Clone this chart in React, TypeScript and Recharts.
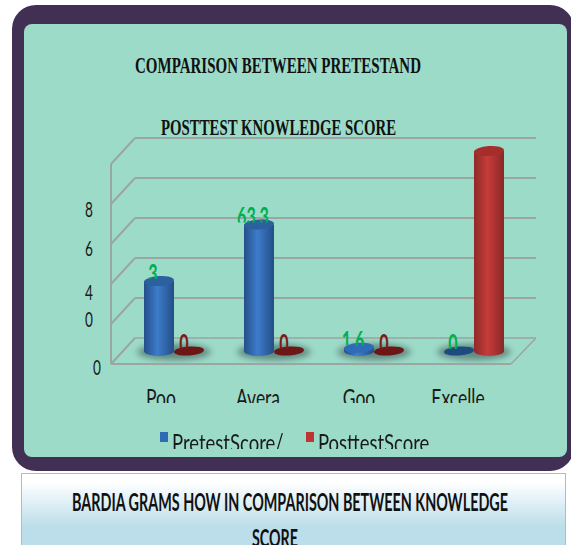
import React, { useId } from 'react';
import { Bar, BarChart, CartesianGrid, LabelList, Legend, XAxis, YAxis } from 'recharts';

const categories = ['Poo', 'Avera', 'Goo', 'Excelle'];
const pretestScores = [35, 63.3, 1.6, 0];
const posttestScores = [0, 0, 0, 100];
const pretestLabels = ['3', '63.3', '1.6', '0'];
const posttestLabels = ['0', '0', '0', ''];
const yTicks = [0, 20, 40, 60, 80, 100];
const yTickLabels = ['0', '0', '4', '6', '8', ''];

const data = categories.map((name, i) => ({
  name,
  pretest: pretestScores[i],
  posttest: posttestScores[i],
  pretestLabel: pretestLabels[i],
  posttestLabel: posttestLabels[i]
}));

const GRID = '#9ba5a1';
const TEAL = '#9ddbc9';
const GREEN = '#00b050';
const BAR_DX = 13;
const BAR_DY = -13;
const DEPTH_X = 24;
const DEPTH_Y = -26;
const RY = 5;

// [clip bottom relative to tick y, horizontal nudge] for the y labels, which are cut off unevenly
const yTickNudge = [
  { bottom: 11, dx: -14 },
  { bottom: 3, dx: -22 },
  { bottom: 16, dx: -22 },
  { bottom: 12, dx: -22 },
  { bottom: 13, dx: -22 },
  { bottom: 0, dx: -22 }
];
const xTickNudge = [0, -3, -2, -3];

function CutText({ cx, bottom, cut, size, sx, fill, weight, children }: any) {
  const id = 'cut' + useId().replace(/[^a-zA-Z0-9]/g, '');
  return (
    <g clipPath={`url(#${id})`}>
      <clipPath id={id}>
        <rect x={cx - 80} y={bottom - 60} width={160} height={60} />
      </clipPath>
      <text
        transform={`translate(${cx},${bottom + cut}) scale(${sx},1)`}
        textAnchor="middle"
        fontFamily="Lato"
        fontSize={size}
        fontWeight={weight}
        fill={fill}
      >
        {children}
      </text>
    </g>
  );
}

function Cylinder(props: any) {
  const { x, y, width, height, tone, withShadow } = props;
  const left = x + BAR_DX;
  const cx = left + width / 2;
  const top = y + BAR_DY;
  const base = top + height;
  const rx = width / 2;
  const flat = height < 1;
  const colors = tone === 'blue'
    ? { body: 'url(#blueBody)', cap: height > 10 ? '#2c609f' : '#2f6cb8', flat: '#1f4a80' }
    : { body: 'url(#redBody)', cap: '#a52e2d', flat: '#6d1616' };
  return (
    <g>
      {withShadow && (
        <ellipse cx={left + width} cy={base + 1} rx={37} ry={8} fill="#4d6f66" opacity={0.75} filter="url(#floorBlur)" />
      )}
      {!flat && (
        <path
          d={`M${left},${top} L${left},${base} A${rx},${RY} 0 0 0 ${left + width},${base} L${left + width},${top} Z`}
          fill={colors.body}
        />
      )}
      <ellipse
        cx={cx}
        cy={top}
        rx={rx}
        ry={flat ? 4.5 : RY}
        fill={flat ? colors.flat : colors.cap}
        transform={`rotate(-4 ${cx} ${top})`}
      />
    </g>
  );
}

function DataLabel(props: any) {
  const { x, y, width, value, fill, shift } = props;
  if (!value) return null;
  return (
    <CutText cx={x + width / 2 + BAR_DX + shift} bottom={y + BAR_DY - 2} cut={4} size={26} sx={0.62} fill={fill} weight="bold">
      {value}
    </CutText>
  );
}

function YTick(props: any) {
  const { y, index } = props;
  const nudge = yTickNudge[index];
  const label = yTickLabels[index];
  if (!label) return null;
  return (
    <CutText cx={111 + nudge.dx} bottom={y + nudge.bottom} cut={0} size={22} sx={0.62} fill="#1a1a1a">
      {label}
    </CutText>
  );
}

function XTick(props: any) {
  const { x, y, payload, index } = props;
  return (
    <CutText cx={x + xTickNudge[index]} bottom={y + 31} cut={4} size={25} sx={0.7} fill="#1a1a1a">
      {payload.value}
    </CutText>
  );
}

function GridLine(props: any) {
  const { x1, x2, y1 } = props;
  const isFloor = y1 > 360;
  return (
    <g stroke={GRID} fill="none">
      <line x1={x1} y1={y1} x2={x1 + DEPTH_X} y2={y1 + DEPTH_Y} strokeWidth={2} />
      <line x1={x1 + DEPTH_X} y1={y1 + DEPTH_Y} x2={x2 + DEPTH_X + 1} y2={y1 + DEPTH_Y} strokeWidth={isFloor ? 1.5 : 2} />
      {isFloor && <line x1={x2} y1={y1} x2={x2 + DEPTH_X + 1} y2={y1 + DEPTH_Y} strokeWidth={1.5} />}
    </g>
  );
}

function LegendRow({ payload }: any) {
  return (
    <div style={{ display: 'flex', height: 21, overflow: 'hidden' }}>
      {(payload || []).map((item: any) => (
        <div key={item.value} style={{ width: 146, display: 'flex', flex: 'none' }}>
          <div style={{ width: 8, height: 10, marginTop: 4, background: item.color, flex: 'none' }} />
          <div
            style={{
              marginLeft: 4,
              fontFamily: 'Lato',
              fontSize: 25,
              lineHeight: '29px',
              color: '#1a1a1a',
              whiteSpace: 'nowrap',
              transform: 'scaleX(0.74)',
              transformOrigin: 'left'
            }}
          >
            {item.value}
          </div>
        </div>
      ))}
    </div>
  );
}

export default function App() {
  return (
    <div style={{ position: 'absolute', left: 0, top: 0, width: 571, height: 545, overflow: 'hidden', background: '#fff' }}>
      <div style={{ position: 'absolute', left: 12, top: 5, width: 562, height: 466, borderRadius: 24, background: '#413053' }} />
      <div style={{ position: 'absolute', left: 24, top: 24, width: 543, height: 433, borderRadius: 8, background: TEAL }} />
      <div
        style={{
          position: 'absolute',
          left: 21,
          top: 473,
          width: 543,
          height: 80,
          border: '1px solid #8cc8d8',
          background: 'linear-gradient(#ffffff, #ffffff 10%, #bcdeea 65%)'
        }}
      />
      <div style={{ position: 'absolute', left: 0, top: 0 }}>
        <BarChart
          width={571}
          height={545}
          data={data}
          barSize={30}
          barGap={0}
          margin={{ top: 164, right: 60, bottom: 141, left: 61 }}
        >
          <defs>
            <linearGradient id="blueBody" x1="0" y1="0" x2="1" y2="0">
              <stop offset="0%" stopColor="#245089" />
              <stop offset="45%" stopColor="#3d7ccb" />
              <stop offset="100%" stopColor="#234e86" />
            </linearGradient>
            <linearGradient id="redBody" x1="0" y1="0" x2="1" y2="0">
              <stop offset="0%" stopColor="#8e2a28" />
              <stop offset="45%" stopColor="#c53c3a" />
              <stop offset="100%" stopColor="#8a2826" />
            </linearGradient>
            <filter id="floorBlur" x="-30%" y="-60%" width="160%" height="220%">
              <feGaussianBlur stdDeviation="3" />
            </filter>
          </defs>
          <text x={135} y={73} textLength={286} lengthAdjust="spacingAndGlyphs" fontFamily="Liberation Serif" fontWeight="bold" fontSize={23} fill="#111">
            COMPARISON BETWEEN PRETESTAND
          </text>
          <text x={161} y={135} textLength={235} lengthAdjust="spacingAndGlyphs" fontFamily="Liberation Serif" fontWeight="bold" fontSize={23} fill="#111">
            POSTTEST KNOWLEDGE SCORE
          </text>
          <text x={72} y={511} textLength={436} lengthAdjust="spacingAndGlyphs" fontFamily="Lato" fontWeight="bold" fontSize={25} fill="#111">
            BARDIA GRAMS HOW IN COMPARISON BETWEEN KNOWLEDGE
          </text>
          <text x={252} y={547} textLength={46} lengthAdjust="spacingAndGlyphs" fontFamily="Lato" fontWeight="bold" fontSize={25} fill="#111">
            SCORE
          </text>
          <CartesianGrid vertical={false} horizontal={(p: any) => <GridLine key={p.key} {...p} />} />
          <XAxis
            dataKey="name"
            height={40}
            interval={0}
            axisLine={{ stroke: GRID, strokeWidth: 2 }}
            tickLine={false}
            tick={<XTick />}
          />
          <YAxis
            width={50}
            domain={[0, 100]}
            ticks={yTicks}
            interval={0}
            axisLine={{ stroke: GRID, strokeWidth: 2 }}
            tickLine={false}
            tick={<YTick />}
          />
          <Legend
            layout="horizontal"
            verticalAlign="middle"
            align="center"
            itemSorter={null}
            wrapperStyle={{ left: 160, top: 428, width: 300 }}
            content={<LegendRow />}
          />
          <Bar
            dataKey="pretest"
            name="PretestScore/"
            fill="#2f6cb4"
            isAnimationActive={false}
            shape={(p: any) => <Cylinder {...p} tone="blue" withShadow />}
          >
            <LabelList dataKey="pretestLabel" content={(p: any) => <DataLabel {...p} fill={GREEN} shift={-6} />} />
          </Bar>
          <Bar
            dataKey="posttest"
            name="PosttestScore"
            fill="#bd3532"
            isAnimationActive={false}
            shape={(p: any) => <Cylinder {...p} tone="red" />}
          >
            <LabelList dataKey="posttestLabel" content={(p: any) => <DataLabel {...p} fill="#7a1a1a" shift={-5} />} />
          </Bar>
        </BarChart>
      </div>
    </div>
  );
}
